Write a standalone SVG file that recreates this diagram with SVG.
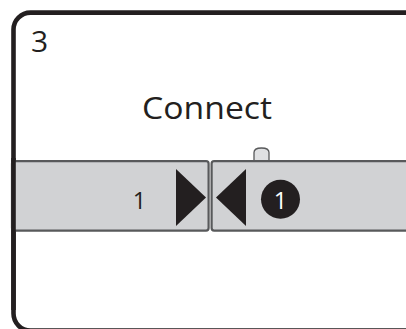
<svg xmlns="http://www.w3.org/2000/svg" width="406" height="329" viewBox="0 0 406 329">
<style>
.txt{font-family:"Open Sans","Liberation Sans",sans-serif;fill:#231f20}
.panel{fill:#d1d2d4;stroke:#58595b;stroke-width:2.2}
.tri{fill:#231f20}
</style>
<rect width="406" height="329" fill="#ffffff"/>
<g id="frame">
<rect x="13.5" y="12.6" width="420" height="318" rx="17" ry="17" fill="#ffffff" stroke="#231f20" stroke-width="4.6"/>
</g>
<g id="step-number"><text class="txt" x="31" y="52" font-size="30">3</text></g>
<g id="title"><text class="txt" x="207" y="118.5" font-size="31" text-anchor="middle" textLength="130" lengthAdjust="spacingAndGlyphs">Connect</text></g>
<g id="bump"><path d="M254,161 V152.5 Q254,148 261.5,148 Q269,148 269,152.5 V161 Z" fill="#dfe0e2" stroke="#58595b" stroke-width="1.3"/></g>
<g id="left-panel">
<rect class="panel" x="12" y="161.2" width="196.6" height="69.4" rx="2.5"/>
<text class="txt" x="139.5" y="209" font-size="23.5" text-anchor="middle">1</text>
<polygon class="tri" points="176,169 206,197.5 176,226"/>
</g>
<g id="right-panel">
<rect class="panel" x="211.6" y="161.2" width="220" height="69.4" rx="2.5"/>
<polygon class="tri" points="216,197.5 246,169 246,226"/>
<circle cx="280.5" cy="199.3" r="19.5" fill="#231f20"/>
<text x="280.5" y="209" font-size="23.5" text-anchor="middle" font-family="Open Sans, Liberation Sans, sans-serif" fill="#ffffff">1</text>
</g>
<g id="frame-edge">
<path d="M13.5,158 V310" fill="none" stroke="#231f20" stroke-width="4.6"/>
</g>
<g id="connectors"></g>
</svg>
